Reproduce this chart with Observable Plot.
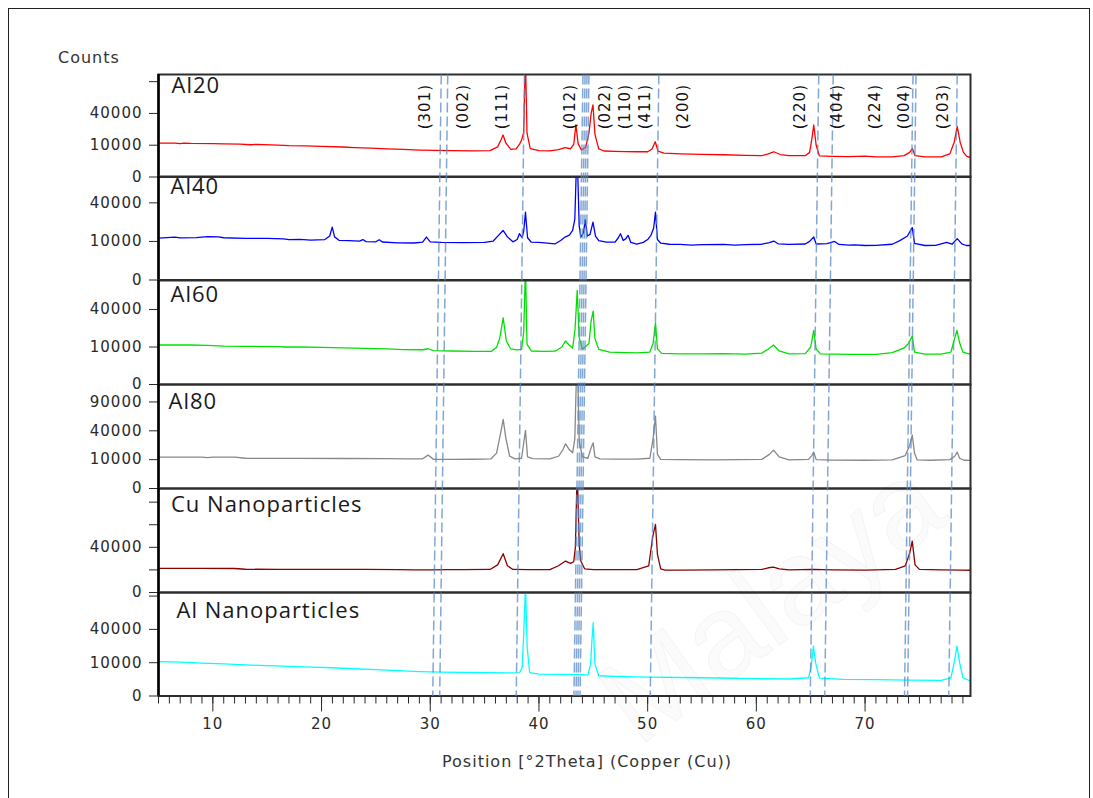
<!DOCTYPE html>
<html><head><meta charset="utf-8">
<script src="https://cdn.jsdelivr.net/npm/d3@7"></script>
<script src="https://cdn.jsdelivr.net/npm/@observablehq/plot@0.6"></script>
<style>
body{margin:0;background:#fff;}
#page{position:relative;width:1093px;height:798px;overflow:hidden;background:#fff;}
#page svg{overflow:visible;}
#page svg text{letter-spacing:1px;}
#border{position:absolute;left:8px;top:8px;width:1080px;height:820px;border:1.5px solid #222;}
.lbl{position:absolute;font-family:"DejaVu Sans",sans-serif;color:#333;letter-spacing:1px;white-space:nowrap;}
#wm{position:absolute;left:770px;top:600px;transform:translate(-50%,-50%) rotate(-36deg);font-family:"Liberation Sans",sans-serif;font-size:120px;line-height:130px;color:rgba(0,0,0,0.015);-webkit-text-stroke:1px rgba(0,0,0,0.045);white-space:nowrap;pointer-events:none;}
</style></head>
<body><div id="page"><div id="border"></div></div>
<script>
// ---------- data ----------
const xDomain = [5, 79.7];
const panelNames = ["Al20", "Al40", "Al60", "Al80", "Cu Nanoparticles", "Al Nanoparticles"];

const al20 = [[5,11400],[6.5,11300],[7,11000],[7.3,11400],[8,11200],[10,11000],[11,10800],[12.5,10700],[13.5,10300],[14,10600],[16,10100],[17,9800],[18.5,9600],[20,9300],[22,8900],[23,8600],[24.5,8300],[26,7800],[27.5,7500],[29,7200],[30.5,7000],[32,6900],[34,6800],[35.5,6900],[36.2,9000],[36.5,13500],[36.7,17400],[36.95,11500],[37.4,7600],[37.9,7800],[38.2,10500],[38.4,13500],[38.6,20000],[38.75,150000],[38.9,19000],[39.2,8000],[40,6900],[41,6800],[41.8,7400],[42.4,8500],[42.9,7900],[43.2,10500],[43.4,27000],[43.6,11000],[43.9,7200],[44.3,8800],[44.6,19000],[44.8,40000],[44.97,51500],[45.15,18000],[45.5,7800],[46,6700],[47,6500],[48,6400],[49,6300],[50,6300],[50.4,7800],[50.7,12300],[50.95,6600],[51.5,5600],[53,5300],[55,5100],[57,4900],[59,4600],[60.5,4500],[61.1,5300],[61.6,6300],[62.2,5000],[63,4500],[64.5,4500],[64.9,6000],[65.1,14000],[65.28,26800],[65.5,10000],[65.8,4400],[67,4200],[68.5,4100],[70,4300],[71,4000],[72.5,4000],[73.6,4500],[74.1,6000],[74.35,8000],[74.6,4500],[75.5,4000],[77,4000],[77.8,5300],[78.2,12000],[78.48,25000],[78.75,12000],[79.05,6000],[79.35,4300],[79.7,3700]];

const al40 = [[5,11800],[6.5,12300],[7,11900],[8.5,12100],[9.5,12600],[10.5,12500],[11,12000],[13,11700],[15,11600],[16.5,11400],[17,11000],[18,11100],[19,10700],[20.3,11000],[20.75,13000],[20.98,18800],[21.2,12500],[21.6,10600],[22.5,10400],[23.5,10200],[23.8,11000],[24.1,9900],[25,9800],[25.3,10900],[25.6,9700],[27,9300],[28.5,9200],[29.3,9600],[29.65,12400],[30,9800],[31,9500],[33,9400],[35,9500],[35.8,10200],[36.3,13500],[36.7,16500],[37.1,12500],[37.6,9800],[38,11000],[38.2,14400],[38.45,12000],[38.6,16000],[38.76,31000],[38.95,12000],[39.3,9600],[40,9500],[41,9000],[41.5,8800],[42,10500],[42.4,12400],[42.8,13500],[43.1,16500],[43.3,25000],[43.5,120000],[43.7,20000],[43.85,12400],[44.1,15000],[44.25,24400],[44.45,13000],[44.7,14000],[44.97,22500],[45.2,13000],[45.5,10400],[46.2,9600],[47,9600],[47.3,12000],[47.5,14400],[47.75,10500],[48,11500],[48.2,13400],[48.45,9500],[49,8600],[49.6,9500],[50,11000],[50.3,13400],[50.55,18000],[50.72,31000],[50.9,11000],[51.2,9100],[52,8600],[53,8500],[54,8200],[55,8400],[57,8500],[58,8200],[59,8400],[60.5,8600],[61.2,9400],[61.6,10200],[62,8800],[63,8500],[64.5,8700],[64.9,10000],[65.28,12400],[65.5,8700],[66.5,8900],[67.2,10000],[67.6,8500],[68.5,8200],[69,8300],[70,8000],[71,8100],[72.5,8600],[73.2,10400],[73.9,13000],[74.34,18400],[74.55,9000],[75.5,8000],[76.5,8100],[77.5,9500],[78,8600],[78.48,11500],[78.9,8800],[79.3,8000],[79.7,8000]];

const al60 = [[5,11100],[8,11100],[9.5,10900],[10.5,10600],[11,10500],[13,10400],[16,10200],[16.6,10000],[18,10000],[20,9800],[22,9600],[24,9300],[26,9000],[27.5,8700],[29.3,8600],[29.8,9100],[30.3,8200],[32,8000],[34,7800],[35.6,7800],[36.1,9800],[36.4,15600],[36.71,31700],[37,13500],[37.4,9000],[38,8500],[38.4,8800],[38.6,20000],[38.76,100000],[38.9,11500],[39.3,8000],[40.5,7800],[41.5,7900],[42.1,10000],[42.45,13500],[42.8,11000],[43.1,9500],[43.32,21900],[43.52,63100],[43.7,15600],[44,8900],[44.6,12000],[44.8,28700],[44.99,38400],[45.15,15000],[45.5,8800],[46.5,7500],[48,7200],[49,7100],[50.2,7500],[50.5,12000],[50.72,27000],[50.9,9000],[51.3,6900],[53,6700],[55,6700],[57,6800],[59,6600],[60.5,7000],[61.1,9000],[61.58,11100],[62.1,8000],[63,6700],[64.5,6800],[65,10000],[65.28,20900],[65.5,9000],[65.9,6700],[67,6600],[69,6500],[71,6500],[72.5,7200],[73.6,9500],[74,12000],[74.34,16700],[74.55,7500],[75.5,6600],[77,6600],[77.9,7500],[78.2,14000],[78.45,20900],[78.7,12400],[79,7500],[79.7,6500]];

const al80 = [[5,11900],[9,11900],[9.5,11500],[10,11900],[12,11800],[13,11000],[14,10900],[18,10900],[22,10800],[26,10700],[28,10500],[29.3,10600],[29.8,13400],[30.3,10200],[32,10200],[34,10300],[35.6,10600],[36.1,15000],[36.45,35200],[36.71,57300],[36.95,30900],[37.3,12600],[37.8,10600],[38.4,11000],[38.6,25000],[38.76,40600],[38.95,12000],[39.4,10700],[41,10500],[41.8,12500],[42.2,18000],[42.45,24000],[42.8,18000],[43.1,15300],[43.3,30000],[43.52,250000],[43.7,27000],[44,12000],[44.5,11000],[44.8,20000],[44.99,25100],[45.15,12000],[45.6,10500],[47,10400],[49,10400],[50.2,11000],[50.5,30000],[50.72,62900],[50.9,14000],[51.2,10200],[53,10000],[56,9900],[60.5,10200],[61.2,14000],[61.58,17700],[62.1,12000],[63,9800],[64.8,10200],[65.1,13000],[65.28,15900],[65.5,10000],[67,9700],[70,9600],[72.5,9800],[73.7,13000],[74.1,22000],[74.34,34300],[74.55,15000],[74.8,9800],[76,9600],[77.8,10000],[78.25,12500],[78.48,15900],[78.7,11000],[79.1,9600],[79.7,9500]];

const cuNP = [[5,11500],[9,11500],[12,11300],[13,10600],[16,10500],[20,10500],[24,10400],[27,10300],[28.5,10000],[30,10100],[31.5,10300],[33,10200],[35.5,10400],[36.2,15000],[36.71,29500],[37.1,14000],[37.6,10400],[39,10200],[41,10300],[41.8,14000],[42.44,19400],[42.9,16700],[43.2,18500],[43.35,40000],[43.52,300000],[43.7,45000],[43.85,19400],[44.2,11000],[45,10300],[47,10200],[49,10300],[50.1,14000],[50.45,58800],[50.72,91000],[50.9,28600],[51.2,11000],[51.6,9900],[53,9900],[56,10000],[60.5,10500],[61.1,12000],[61.58,12700],[62.1,11000],[63,10000],[65.2,10500],[67,10000],[70,9800],[72.8,10500],[73.7,14000],[74.1,30000],[74.34,51900],[74.6,15000],[75,10500],[77,10000],[79,9800],[79.7,9700]];

const alNP = [[5,10600],[7,10300],[9,9800],[11,9300],[13,8700],[15,8300],[17,7900],[19,7500],[21,7200],[23,6700],[25,6300],[27,5800],[29,5400],[31,5100],[33,5000],[35,4900],[37,4800],[38.2,4900],[38.45,7200],[38.6,34300],[38.76,110000],[38.92,21000],[39.15,4900],[40,4300],[42,4200],[43.5,4100],[44.5,4000],[44.75,9000],[44.85,24100],[44.99,48400],[45.15,9000],[45.5,3700],[47,3500],[50,3200],[55,3000],[60,2700],[63,2600],[64.8,3000],[65.05,8000],[65.25,22500],[65.45,10000],[65.8,2900],[68,2500],[71,2400],[74,2300],[77,2200],[77.9,3000],[78.2,10000],[78.45,22500],[78.7,10000],[79,3000],[79.7,2000]];

const yMax = [104000, 72000, 77000, 130000, 212000, 96600];
const yTicks = [[0,10000,40000,90000],[0,10000,40000],[0,10000,40000],[0,10000,40000,90000],[0,10000,40000,90000,160000],[0,10000,40000,90000]];
const yTickLabels = [[0,10000,40000],[0,10000,40000],[0,10000,40000],[0,10000,40000,90000],[0,40000],[0,10000,40000]];
const xMajorTicks = [10,20,30,40,50,60,70];
const xMinorTicks = d3.range(5, 80);

const hklLabels = ["(301)","(002)","(111)","(012)","(022)","(110)","(411)","(200)","(220)","(404)","(224)","(004)","(203)"];
const hklPos = [29.56, 33.06, 36.65, 42.90, 46.12, 47.96, 49.80, 53.30, 64.06, 67.44, 70.96, 73.57, 77.22];
const refLineTop = [31.01, 31.61, 38.67, 44.05, 44.24, 44.42, 44.60, 51.03, 65.74, 67.07, 74.41, 74.69, 78.48];
const refLineBottom = [30.23, 30.87, 37.91, 43.22, 43.41, 43.59, 43.78, 50.24, 64.96, 66.29, 73.63, 73.91, 77.70];

const yLabel = "Counts";
const xLabel = "Position [°2Theta] (Copper (Cu))";
const watermark = "Malaya";

// ---------- styles / layout ----------
const seriesColors = ["#ff0000", "#0000ff", "#00e000", "#888888", "#8b0000", "#00ffff"];
const bounds = [73.5, 176, 279.5, 383.5, 487.5, 591.5, 695];
const nameOffset = [[13, 3], [12, 2], [12, 5.5], [10, 9], [12.5, 7.5], [18, 10]];
const W = 1093, ML = 158, MR = 123, MB_LAST = 103;

const page = document.getElementById("page");
const series = [al20, al40, al60, al80, cuNP, alNP];

series.forEach((s, i) => {
  const top = bounds[i], h = bounds[i + 1] - bounds[i];
  const last = i === series.length - 1;
  const data = s.map(([t, c]) => ({t, c}));
  const labeled = new Set(yTickLabels[i]);
  const marks = [
    Plot.line(data, {x: "t", y: "c", stroke: seriesColors[i], strokeWidth: 1.3, clip: true}),
    Plot.axisY(yTicks[i], {tickSize: 9, tickPadding: 7, label: null, fontSize: 15,
      tickFormat: d => labeled.has(d) ? String(d) : ""}),
    Plot.frame({stroke: "#2e2e2e", strokeWidth: 2}),
    Plot.ruleX([xDomain[0]], {stroke: "#000", strokeWidth: 2.5}),
    Plot.text([panelNames[i]], {frameAnchor: "top-left", text: d => d, dx: nameOffset[i][0], dy: nameOffset[i][1],
      lineAnchor: "top", textAnchor: "start", fontSize: 22, fontFamily: "Open Sans", fill: "#1a1a1a"})
  ];
  if (last) {
    marks.push(Plot.axisX(xMinorTicks, {tickSize: 8, tickFormat: () => "", label: null}));
    marks.push(Plot.axisX(xMajorTicks, {tickSize: 16, tickPadding: 6, label: null, fontSize: 15}));
  }
  const chart = Plot.plot({
    width: W, height: h + (last ? MB_LAST : 0),
    marginLeft: ML, marginRight: MR, marginTop: 0, marginBottom: last ? MB_LAST : 0,
    x: last ? {domain: xDomain} : {domain: xDomain, axis: null},
    y: {type: "sqrt", domain: [0, yMax[i]]},
    style: {fontFamily: "DejaVu Sans", fontSize: "15px", color: "#2a2a2a", background: "transparent", overflow: "visible"},
    marks
  });
  chart.style.position = "absolute";
  chart.style.left = "0px";
  chart.style.top = top + "px";
  page.appendChild(chart);
});

// reference lines overlay
const refs = refLineTop.map((t, i) => ({top: t, bottom: refLineBottom[i]}));
const hkl = hklLabels.map((l, i) => ({label: l, x: hklPos[i]}));
const overlay = Plot.plot({
  width: W, height: bounds[6] - bounds[0],
  marginLeft: ML, marginRight: MR, marginTop: 0, marginBottom: 0,
  x: {domain: xDomain, axis: null},
  y: {domain: [0, 1], axis: null},
  style: {fontFamily: "DejaVu Sans", fontSize: "15px", background: "transparent", overflow: "visible"},
  marks: [
    Plot.link(refs, {x1: "top", y1: () => 1, x2: "bottom", y2: () => 0,
      stroke: "#5a8ac6", strokeOpacity: 0.75, strokeWidth: 1.5, strokeDasharray: "10,4"}),
    Plot.text(hkl, {x: "x", frameAnchor: "top", text: "label", rotate: -90, textAnchor: "end",
      lineAnchor: "middle", dy: 9.5, fontSize: 15, fill: "#111"})
  ]
});
overlay.style.position = "absolute";
overlay.style.left = "0px";
overlay.style.top = bounds[0] + "px";
page.appendChild(overlay);

// axis titles
const yl = document.createElement("div");
yl.className = "lbl"; yl.textContent = yLabel;
yl.style.left = "58px"; yl.style.top = "48px"; yl.style.fontSize = "16px"; yl.style.lineHeight = "20px";
page.appendChild(yl);
const xl = document.createElement("div");
xl.className = "lbl"; xl.textContent = xLabel;
xl.style.left = "587px"; xl.style.top = "752px"; xl.style.fontSize = "16px"; xl.style.lineHeight = "20px";
xl.style.transform = "translateX(-50%)";
page.appendChild(xl);

// watermark
const wm = document.createElement("div");
wm.id = "wm"; wm.textContent = watermark;
page.appendChild(wm);
</script>
</body></html>
